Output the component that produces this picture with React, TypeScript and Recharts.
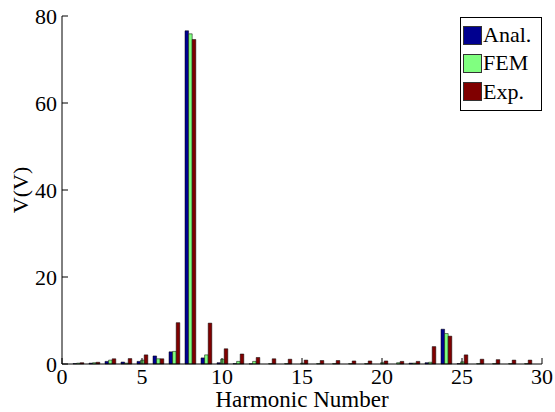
import { BarChart, Bar, XAxis, YAxis, Legend, Label } from 'recharts'

const harmonics = [1, 2, 3, 4, 5, 6, 7, 8, 9, 10, 11, 12, 13, 14, 15, 16, 17, 18, 19, 20, 21, 22, 23, 24, 25, 26, 27, 28, 29]
const analytical = [0.1, 0.2, 0.6, 0.45, 0.6, 1.85, 2.8, 76.6, 1.4, 0.3, 0.1, 0.05, 0, 0, 0, 0, 0, 0, 0, 0, 0, 0.2, 0.3, 8.0, 0.1, 0, 0, 0, 0]
const fem = [0.2, 0.3, 0.9, 0.2, 0.9, 1.2, 2.9, 75.9, 2.1, 1.1, 0.6, 0.6, 0.1, 0.1, 0.2, 0.1, 0.1, 0.1, 0.1, 0.3, 0.3, 0.2, 0.4, 7.0, 0.5, 0.1, 0.1, 0.1, 0.1]
const experimental = [0.3, 0.4, 1.2, 1.25, 2.1, 1.2, 9.5, 74.6, 9.4, 3.5, 2.3, 1.5, 1.2, 1.1, 0.9, 0.8, 0.8, 0.7, 0.7, 0.7, 0.6, 0.6, 4.0, 6.4, 2.1, 1.1, 1.0, 0.9, 0.9]

const xTicks = [0, 5, 10, 15, 20, 25, 30]
const yTicks = [0, 20, 40, 60, 80]

const series = [
    { key: 'anal', name: 'Anal.', color: '#00008f' },
    { key: 'fem', name: 'FEM', color: '#80ff80' },
    { key: 'exp', name: 'Exp.', color: '#800000' },
]

const data = harmonics.map((h, i) => ({
    h,
    anal: analytical[i],
    fem: fem[i],
    exp: experimental[i],
}))

const FONT = 'Liberation Serif'
const txt = { fontFamily: FONT, fontSize: 22 }

const bottomTick = ({ x, y, payload }: any) => (
    <g key={`b${payload.value}`}>
        <line x1={x} y1={y} x2={x} y2={y - 6} stroke="#000" />
        <text x={x} y={y + 20} textAnchor="middle" fill="#000" fontFamily={FONT} fontSize={22} style={txt}>
            {payload.value}
        </text>
    </g>
)

const topTick = ({ x, y, payload }: any) => (
    <line key={`t${payload.value}`} x1={x} y1={y} x2={x} y2={y + 6} stroke="#000" />
)

const leftTick = ({ x, y, payload }: any) => (
    <g key={`l${payload.value}`}>
        <line x1={x} y1={y} x2={x + 6} y2={y} stroke="#000" />
        <text x={x - 5} y={y + 8} textAnchor="end" fill="#000" fontFamily={FONT} fontSize={22} style={txt}>
            {payload.value}
        </text>
    </g>
)

const rightTick = ({ x, y, payload }: any) => (
    <line key={`r${payload.value}`} x1={x} y1={y} x2={x - 6} y2={y} stroke="#000" />
)

const LegendBox = () => (
    <div style={{ border: '1px solid #000', background: '#fff', width: 78, padding: '3px 0 4px 2px', ...txt }}>
        {series.map((s) => (
            <div key={s.key} style={{ display: 'flex', alignItems: 'center', height: 28.3 }}>
                <div style={{ width: 17, height: 17, background: s.color, border: '1px solid #333', marginRight: 1 }} />
                <span style={{ lineHeight: '22px' }}>{s.name}</span>
            </div>
        ))}
    </div>
)

export default function App() {
    return (
        <div style={{ position: 'absolute', left: 0, top: 0, background: '#fff', fontFamily: FONT }}>
            <BarChart
                width={555}
                height={412}
                data={data}
                margin={{ top: 16, right: 13, left: 0, bottom: 0 }}
                barSize={3.6}
                barGap={0}
                style={{ fontFamily: FONT }}
            >
                <XAxis
                    dataKey="h"
                    type="number"
                    domain={[0, 30]}
                    ticks={xTicks}
                    interval={0}
                    height={48}
                    axisLine={{ stroke: '#000' }}
                    tickLine={false}
                    tickSize={0}
                    tickMargin={0}
                    tick={bottomTick}
                >
                    <Label
                        content={({ viewBox }: any) => (
                            <text
                                x={viewBox.x + viewBox.width / 2}
                                y={407}
                                textAnchor="middle"
                                fill="#000"
                                fontFamily={FONT}
                                fontSize={23}
                                style={{ fontFamily: FONT, fontSize: 23 }}
                            >
                                Harmonic Number
                            </text>
                        )}
                    />
                </XAxis>
                <XAxis
                    xAxisId="top"
                    orientation="top"
                    dataKey="h"
                    type="number"
                    domain={[0, 30]}
                    ticks={xTicks}
                    interval={0}
                    height={0}
                    axisLine={{ stroke: '#000' }}
                    tickLine={false}
                    tickSize={0}
                    tickMargin={0}
                    tick={topTick}
                />
                <YAxis
                    type="number"
                    domain={[0, 80]}
                    ticks={yTicks}
                    interval={0}
                    width={62}
                    axisLine={{ stroke: '#000' }}
                    tickLine={false}
                    tickSize={0}
                    tickMargin={0}
                    tick={leftTick}
                >
                    <Label
                        content={({ viewBox }: any) => {
                            const cy = viewBox.y + viewBox.height / 2
                            return (
                                <text
                                    x={28}
                                    y={cy}
                                    transform={`rotate(-90, 28, ${cy})`}
                                    textAnchor="middle"
                                    fill="#000"
                                    fontFamily={FONT}
                                    fontSize={22}
                                    style={txt}
                                >
                                    V(V)
                                </text>
                            )
                        }}
                    />
                </YAxis>
                <YAxis
                    yAxisId="right"
                    orientation="right"
                    type="number"
                    domain={[0, 80]}
                    ticks={yTicks}
                    interval={0}
                    width={0}
                    axisLine={{ stroke: '#000' }}
                    tickLine={false}
                    tickSize={0}
                    tickMargin={0}
                    tick={rightTick}
                />
                <Legend
                    layout="vertical"
                    align="center"
                    verticalAlign="middle"
                    content={<LegendBox />}
                    wrapperStyle={{ top: 17, left: 460, width: 82 }}
                />
                {series.map((s) => (
                    <Bar
                        key={s.key}
                        dataKey={s.key}
                        name={s.name}
                        fill={s.color}
                        stroke="#000"
                        strokeWidth={0.5}
                        isAnimationActive={false}
                    />
                ))}
            </BarChart>
        </div>
    )
}
